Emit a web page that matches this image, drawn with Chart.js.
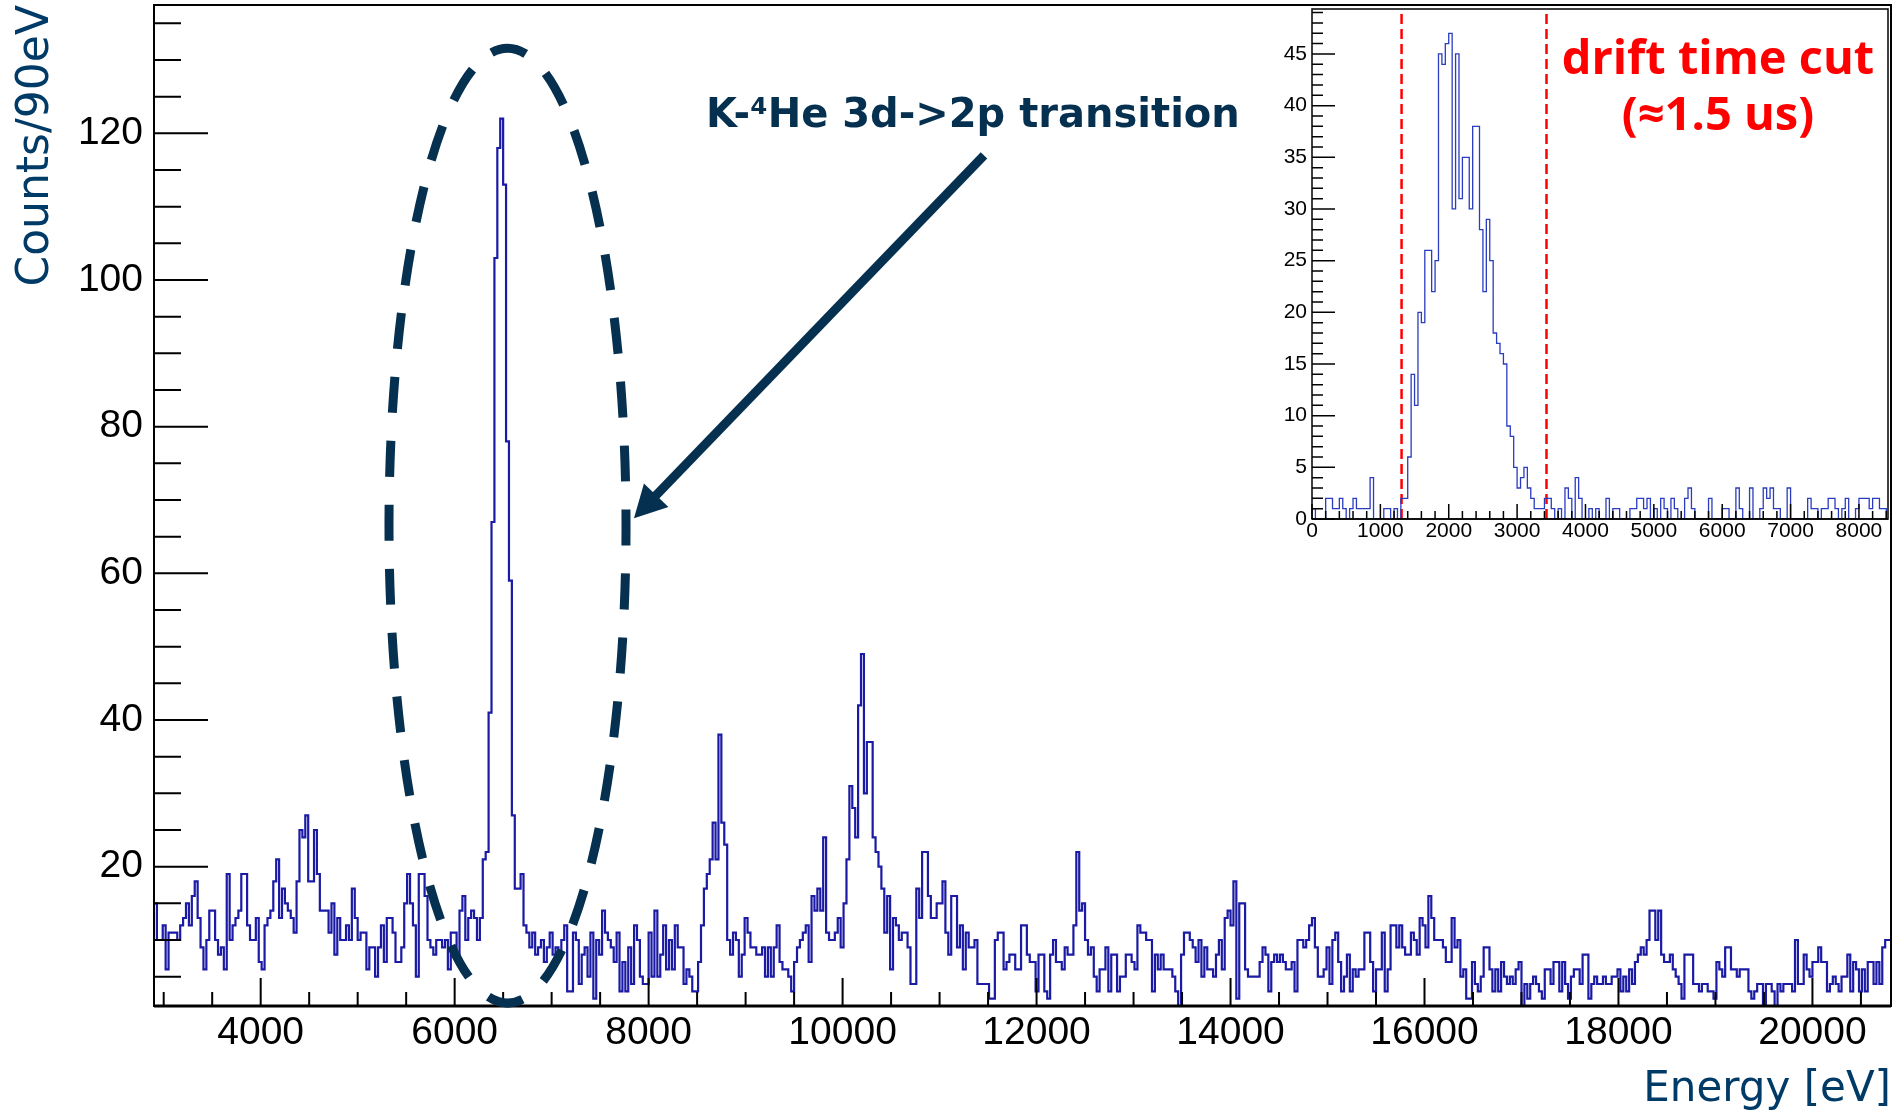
<!DOCTYPE html>
<html>
<head>
<meta charset="utf-8">
<title>K-4He 3d-2p spectrum</title>
<script src="https://cdn.jsdelivr.net/npm/chart.js@4.4.0/dist/chart.umd.min.js"></script>
<style>
  html, body { margin: 0; padding: 0; background: #fff; }
  #wrap { position: relative; width: 1893px; height: 1115px; }
  #spectrum { position: absolute; left: 0; top: 0; }
  #drift { position: absolute; left: 1262px; top: 0; }
</style>
</head>
<body>
<div id="wrap">
  <canvas id="spectrum" width="1893" height="1115"></canvas>
  <canvas id="drift" width="631" height="560"></canvas>
</div>
<script>
// energy spectrum: 30 eV bins, first bin starts at 2900 eV
var energyStart = 2900;
var energyBin = 30;
var counts = [
  15,10,10,12,6,11,11,11,10,12,
  13,15,12,16,18,13,9,6,10,14,
  14,10,8,9,6,19,10,12,13,14,
  19,19,12,10,10,13,7,6,12,13,
  14,18,21,13,17,15,14,13,11,18,
  25,24,27,18,18,25,19,14,14,14,
  11,15,8,13,10,10,12,10,17,13,
  10,11,11,6,9,9,5,9,12,7,
  13,13,11,7,7,9,15,19,15,12,
  5,19,19,16,10,9,8,10,10,9,
  10,6,11,11,8,14,16,10,13,14,
  13,10,13,21,22,41,67,103,118,122,
  113,78,59,27,17,17,19,12,11,9,
  11,8,9,10,7,9,11,8,9,8,
  10,12,3,3,11,10,4,8,9,5,
  11,2,10,8,14,11,10,9,7,11,
  3,7,3,9,4,12,10,5,4,4,
  11,5,14,5,8,12,6,10,6,12,
  9,9,4,6,5,3,3,7,12,17,
  19,21,26,21,38,26,23,10,8,11,
  10,5,8,13,11,9,9,8,8,9,
  5,9,5,9,12,7,6,6,5,3,
  7,9,10,11,12,7,16,14,17,14,
  24,11,10,10,11,13,9,15,21,31,
  28,24,42,49,30,37,37,24,22,20,
  17,11,16,6,13,12,10,11,11,9,
  4,4,17,13,22,22,16,13,13,15,
  15,18,11,8,16,16,9,12,6,11,
  9,9,10,4,4,4,4,2,2,10,
  11,11,6,7,8,8,6,6,12,12,
  8,7,7,3,8,8,3,2,8,10,
  7,7,6,9,8,8,12,22,14,15,
  10,8,9,5,3,6,6,9,3,8,
  8,3,5,5,8,8,7,6,12,11,
  11,10,10,3,8,6,8,6,6,6,
  5,3,1,8,11,11,10,9,7,10,
  5,9,6,6,5,8,10,6,13,14,
  12,18,2,15,15,6,5,5,5,5,
  7,9,8,3,7,8,7,8,7,6,
  6,7,3,10,10,9,10,12,13,9,
  5,5,6,9,4,10,11,7,3,5,
  8,3,6,5,6,6,11,11,7,3,
  6,6,11,3,6,12,12,9,12,9,
  8,8,11,10,8,13,12,9,16,13,
  10,10,10,9,7,7,13,9,10,5,
  6,2,2,7,4,3,5,9,9,6,
  3,6,3,7,5,4,5,4,6,7,
  1,4,2,4,5,4,3,2,6,6,
  4,7,7,3,7,4,2,5,6,6,
  4,8,8,2,4,5,4,4,5,4,
  4,5,5,6,3,5,3,6,4,7,
  8,9,8,10,14,14,10,14,8,7,
  7,8,6,5,4,2,8,8,8,4,
  4,3,4,4,3,3,2,7,6,5,
  9,9,6,6,5,6,6,6,3,2,
  3,4,4,1,4,4,3,1,4,3,
  4,4,4,3,10,4,4,8,6,5,
  7,7,9,7,7,3,4,5,4,3,
  5,5,8,3,7,6,3,6,3,7,
  7,4,7,4,9,10,10
];
var energyTicks = [4000, 6000, 8000, 10000, 12000, 14000, 16000, 18000, 20000];
var countTicks = [20, 40, 60, 80, 100, 120];

// drift time inset: 50 ns bins from 0
var driftStart = 0;
var driftBin = 50;
var driftCounts = [
  1,0,0,0,2,2,1,1,2,1,
  0,1,2,1,1,1,1,4,0,0,
  0,1,1,0,1,0,2,2,6,14,
  11,20,19,26,26,22,25,45,44,46,
  47,30,45,31,35,35,30,38,38,28,
  22,29,25,18,17,16,15,9,8,5,
  3,4,5,3,2,1,1,1,2,2,
  1,0,1,0,3,2,0,4,2,0,
  0,1,0,1,0,0,2,0,1,1,
  0,0,0,1,1,2,2,1,2,0,
  1,0,2,1,0,2,1,0,0,2,
  3,1,0,0,0,0,2,0,0,0,
  1,1,0,0,3,1,0,0,3,0,
  0,1,3,2,3,1,1,0,0,3,
  0,0,0,0,0,2,1,1,0,1,
  1,2,2,1,0,1,2,0,0,1,
  2,2,2,1,2,2,1,1,0
];
var driftTicks = [0, 1000, 2000, 3000, 4000, 5000, 6000, 7000, 8000];
var driftCountTicks = [0, 5, 10, 15, 20, 25, 30, 35, 40, 45];
var driftCuts = [1310, 3430];

var navy = '#06304f';
var titleBlue = '#003a66';

// step outline: one point per bin low edge plus the last high edge
function histPoints(start, width, values) {
  var pts = values.map(function (v, i) { return {x: start + i * width, y: v}; });
  pts.push({x: start + values.length * width, y: values[values.length - 1]});
  return pts;
}

function fixedTicks(list) {
  return function (axis) {
    axis.ticks = list.map(function (v) { return {value: v}; });
  };
}

// pin the axis box size and drop the label overhang padding
function fitBox(w, h) {
  return function (s) {
    if (w) s.width = w;
    if (h) s.height = h;
    s.paddingTop = 0;
    s.paddingBottom = 0;
    s.paddingLeft = 0;
    s.paddingRight = 0;
  };
}

// ROOT style frame: ticks pointing into the pad, box around it
function rootFrame(o) {
  return {
    id: 'rootFrame',
    afterDatasetsDraw: function (chart) {
      var ctx = chart.ctx, a = chart.chartArea;
      var xs = chart.scales.x, ys = chart.scales.y;
      var v, p, len;
      ctx.save();
      ctx.strokeStyle = '#000';
      ctx.lineWidth = o.tickWidth;
      ctx.beginPath();
      for (v = Math.ceil(xs.min / o.xMinor) * o.xMinor; v <= xs.max; v += o.xMinor) {
        p = xs.getPixelForValue(v);
        len = o.xMajor.indexOf(v) >= 0 ? o.xMajorLen : o.xMinorLen;
        ctx.moveTo(p, a.bottom);
        ctx.lineTo(p, a.bottom - len);
      }
      for (v = Math.ceil(ys.min / o.yMinor) * o.yMinor; v <= ys.max; v += o.yMinor) {
        p = ys.getPixelForValue(v);
        len = o.yMajor.indexOf(v) >= 0 ? o.yMajorLen : o.yMinorLen;
        ctx.moveTo(a.left, p);
        ctx.lineTo(a.left + len, p);
      }
      ctx.stroke();
      ctx.lineWidth = o.frameWidth;
      ctx.strokeRect(a.left, a.top, a.right - a.left, a.bottom - a.top);
      ctx.lineWidth = o.axisWidth;
      ctx.beginPath();
      ctx.moveTo(a.left, a.bottom);
      ctx.lineTo(a.right, a.bottom);
      ctx.stroke();
      ctx.restore();
    }
  };
}

// annotations in data units
var peakEllipse = {x: 6545, y: 66.5, rx: 1222, ry: 65.1};
var arrowFrom = {x: 11458, y: 117.0};
var arrowTo = {x: 7849, y: 67.5};
var peakLabel = {x: 8592, y: 120.9, text: 'K-\u2074He 3d->2p transition'};

var spectrumNotes = {
  id: 'spectrumNotes',
  afterDatasetsDraw: function (chart) {
    var ctx = chart.ctx, xs = chart.scales.x, ys = chart.scales.y;
    var cx = xs.getPixelForValue(peakEllipse.x), cy = ys.getPixelForValue(peakEllipse.y);
    var rx = xs.getPixelForValue(peakEllipse.x + peakEllipse.rx) - cx;
    var ry = cy - ys.getPixelForValue(peakEllipse.y + peakEllipse.ry);
    var a0 = -Math.PI / 2 - 16 / rx; // dash centred on the top
    ctx.save();
    ctx.strokeStyle = navy;
    ctx.fillStyle = navy;
    ctx.lineWidth = 9;
    ctx.setLineDash([36, 28]);
    ctx.beginPath();
    ctx.ellipse(cx, cy, rx, ry, 0, a0, a0 + 2 * Math.PI);
    ctx.stroke();
    ctx.setLineDash([]);

    var x1 = xs.getPixelForValue(arrowFrom.x), y1 = ys.getPixelForValue(arrowFrom.y);
    var x2 = xs.getPixelForValue(arrowTo.x), y2 = ys.getPixelForValue(arrowTo.y);
    var ang = Math.atan2(y2 - y1, x2 - x1);
    var head = 32, half = 17;
    var bx = x2 - head * Math.cos(ang), by = y2 - head * Math.sin(ang);
    ctx.lineWidth = 9;
    ctx.beginPath();
    ctx.moveTo(x1, y1);
    ctx.lineTo(bx + 2 * Math.cos(ang), by + 2 * Math.sin(ang));
    ctx.stroke();
    ctx.beginPath();
    ctx.moveTo(x2, y2);
    ctx.lineTo(bx + half * Math.sin(ang), by - half * Math.cos(ang));
    ctx.lineTo(bx - half * Math.sin(ang), by + half * Math.cos(ang));
    ctx.closePath();
    ctx.fill();

    ctx.font = 'bold 40px "DejaVu Sans"';
    ctx.textAlign = 'left';
    ctx.textBaseline = 'alphabetic';
    ctx.fillText(peakLabel.text, xs.getPixelForValue(peakLabel.x), ys.getPixelForValue(peakLabel.y));
    ctx.restore();
  }
};

var cutLabel = {x: 5938, lines: [['drift time cut', 43.1], ['(\u22481.5 us)', 37.6]]};

var driftNotes = {
  id: 'driftNotes',
  afterDatasetsDraw: function (chart) {
    var ctx = chart.ctx, xs = chart.scales.x, ys = chart.scales.y;
    ctx.save();
    ctx.fillStyle = '#ff0000';
    ctx.font = 'bold 47px "Open Sans"';
    ctx.textAlign = 'center';
    ctx.textBaseline = 'alphabetic';
    cutLabel.lines.forEach(function (l) {
      ctx.fillText(l[0], xs.getPixelForValue(cutLabel.x), ys.getPixelForValue(l[1]));
    });
    ctx.restore();
  }
};

Chart.defaults.font.family = '"Liberation Sans", Arial, sans-serif';
Chart.defaults.color = '#000';

var spectrumCtx = document.getElementById('spectrum').getContext('2d');
var spectrumChart = new Chart(spectrumCtx, {
  type: 'line',
  data: {
    datasets: [{
      data: histPoints(energyStart, energyBin, counts),
      borderColor: '#1a1aa5',
      borderWidth: 2.2,
      stepped: true,
      pointRadius: 0,
      fill: false
    }]
  },
  options: {
    responsive: false,
    animation: false,
    devicePixelRatio: 1,
    layout: {padding: {left: 0, top: 5, right: 2, bottom: 0}},
    plugins: {legend: {display: false}, tooltip: {enabled: false}},
    scales: {
      x: {
        type: 'linear',
        min: 2900,
        max: 20810,
        grid: {display: false, drawTicks: false},
        border: {display: false},
        afterBuildTicks: fixedTicks(energyTicks),
        afterFit: fitBox(0, 109),
        ticks: {
          font: {size: 39},
          color: '#000',
          padding: 4,
          maxRotation: 0,
          autoSkip: false,
          callback: function (v) { return String(v); }
        },
        title: {
          display: true,
          text: 'Energy [eV]',
          align: 'end',
          color: titleBlue,
          font: {family: '"DejaVu Sans"', size: 42, lineHeight: 1.2},
          padding: {top: 0, bottom: 0}
        }
      },
      y: {
        min: 1,
        max: 137.5,
        grid: {display: false, drawTicks: false},
        border: {display: false},
        afterBuildTicks: fixedTicks(countTicks),
        afterFit: fitBox(154, 0),
        ticks: {
          font: {size: 39},
          color: '#000',
          padding: 11,
          callback: function (v) { return String(v); }
        },
        title: {
          display: true,
          text: 'Counts/90eV',
          align: 'end',
          color: titleBlue,
          font: {family: '"DejaVu Sans"', size: 44, lineHeight: 1.2},
          padding: {top: 10, bottom: 0}
        }
      }
    }
  },
  plugins: [
    rootFrame({
      xMajor: energyTicks, xMinor: 500, xMajorLen: 28, xMinorLen: 14,
      yMajor: countTicks, yMinor: 5, yMajorLen: 54, yMinorLen: 27,
      tickWidth: 2, frameWidth: 2, axisWidth: 3
    }),
    spectrumNotes
  ]
});

var driftMax = 49.35;
var cutSets = driftCuts.map(function (c) {
  return {
    data: [{x: c, y: 0}, {x: c, y: driftMax}],
    borderColor: '#ff0000',
    borderWidth: 2.5,
    borderDash: [10, 5],
    pointRadius: 0,
    fill: false
  };
});

var driftCtx = document.getElementById('drift').getContext('2d');
var driftChart = new Chart(driftCtx, {
  type: 'line',
  data: {
    datasets: [{
      data: histPoints(driftStart, driftBin, driftCounts),
      borderColor: '#2a3cc0',
      borderWidth: 1.3,
      stepped: true,
      pointRadius: 0,
      fill: false
    }].concat(cutSets)
  },
  options: {
    responsive: false,
    animation: false,
    devicePixelRatio: 1,
    layout: {padding: {left: 0, top: 9, right: 5, bottom: 0}},
    plugins: {legend: {display: false}, tooltip: {enabled: false}},
    scales: {
      x: {
        type: 'linear',
        min: 0,
        max: 8425,
        grid: {display: false, drawTicks: false},
        border: {display: false},
        afterBuildTicks: fixedTicks(driftTicks),
        afterFit: fitBox(0, 41),
        ticks: {
          font: {size: 21},
          color: '#000',
          padding: 0,
          maxRotation: 0,
          autoSkip: false,
          callback: function (v) { return String(v); }
        }
      },
      y: {
        min: 0,
        max: driftMax,
        grid: {display: false, drawTicks: false},
        border: {display: false},
        afterBuildTicks: fixedTicks(driftCountTicks),
        afterFit: fitBox(50, 0),
        ticks: {
          font: {size: 21},
          color: '#000',
          padding: 5,
          callback: function (v) { return String(v); }
        }
      }
    }
  },
  plugins: [
    rootFrame({
      xMajor: driftTicks, xMinor: 200, xMajorLen: 15, xMinorLen: 8,
      yMajor: driftCountTicks, yMinor: 1, yMajorLen: 23, yMinorLen: 11,
      tickWidth: 1.5, frameWidth: 1.5, axisWidth: 1.5
    }),
    driftNotes
  ]
});
</script>
</body>
</html>
